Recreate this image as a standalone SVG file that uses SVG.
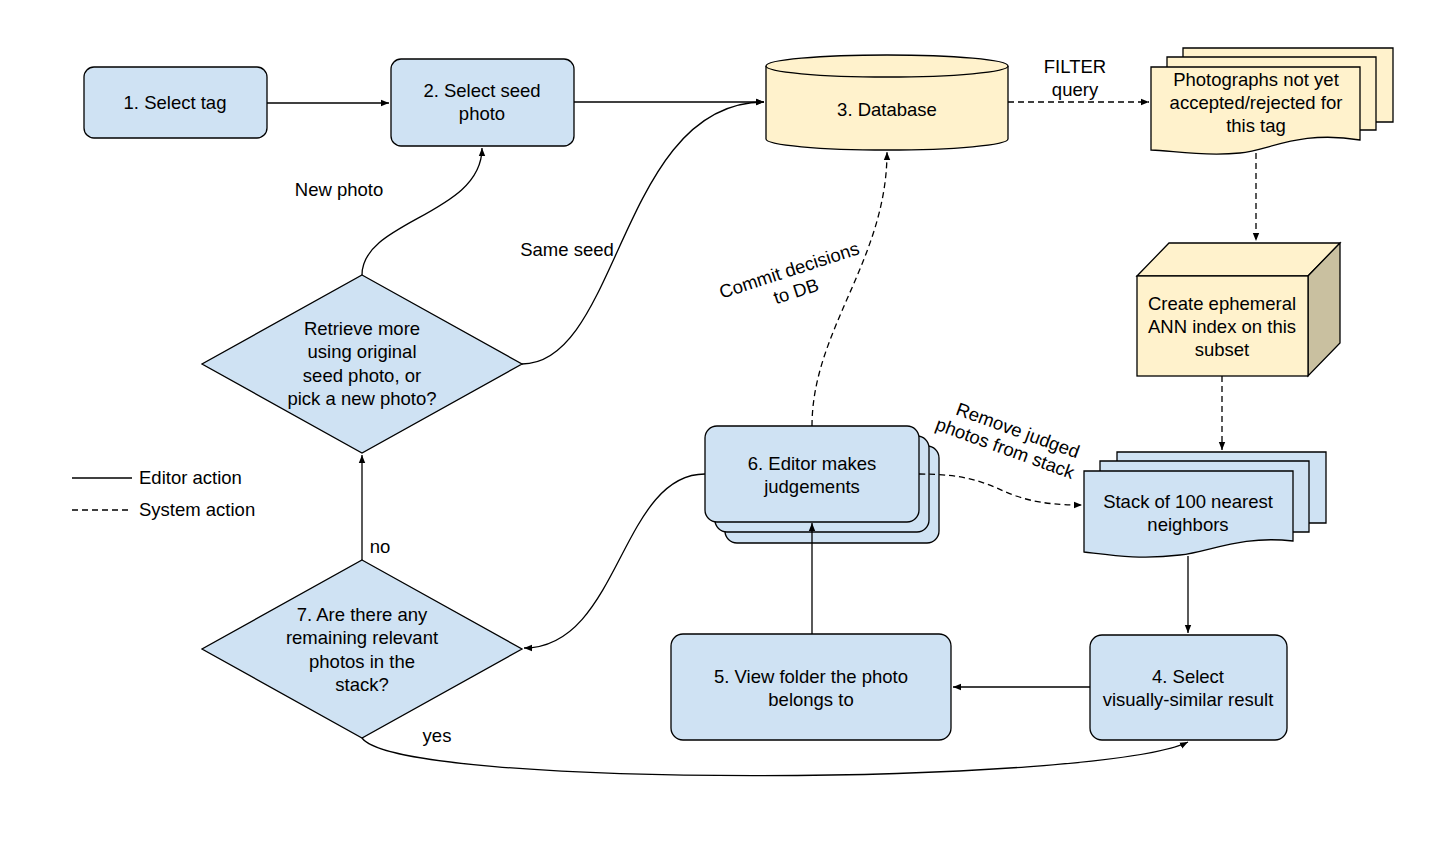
<svg xmlns="http://www.w3.org/2000/svg" width="1447" height="852" viewBox="0 0 1447 852">
<style>
text{font-family:"Liberation Sans",Arial,sans-serif;font-size:18.5px;fill:#000;text-anchor:middle}
.b{fill:#cfe2f3;stroke:#000;stroke-width:1.3}
.y{fill:#fff2cc;stroke:#000;stroke-width:1.3}
.c{fill:none;stroke:#000;stroke-width:1.3}
.d{stroke-dasharray:6,4}
</style>
<defs><marker id="a" viewBox="0 0 10 10" refX="10" refY="5" markerWidth="8" markerHeight="8" markerUnits="userSpaceOnUse" orient="auto"><path d="M0,1 L10,5 L0,9 z" fill="#000"/></marker></defs>
<rect width="1447" height="852" fill="#fff"/>
<g id="n1"><rect class="b" x="84" y="67" width="183" height="71" rx="10"/><text x="175" y="109">1. Select tag</text></g>
<g id="n2"><rect class="b" x="391" y="59" width="183" height="87" rx="10"/><text x="482" y="97">2. Select seed</text><text x="482" y="120">photo</text></g>
<g id="n3"><path class="y" d="M766,66 L766,139 A121,11 0 0 0 1008,139 L1008,66"/><ellipse class="y" cx="887" cy="66" rx="121" ry="11"/><text x="887" y="116">3. Database</text></g>
<g id="docA">
<path class="y" d="M1183,48 H1393 V122 H1183 Z"/>
<path class="y" d="M1167,57 H1376 V130 H1167 Z"/>
<path class="y" d="M1151,67 H1360 V140 C1300,130 1270,150 1240,153 C1200,157 1170,150 1151,150 Z"/>
<text x="1256" y="86">Photographs not yet</text><text x="1256" y="109">accepted/rejected for</text><text x="1256" y="132">this tag</text></g>
<g id="cube">
<path class="y" d="M1137,276 L1169,243 H1340 L1308,276 Z"/>
<path d="M1308,276 L1340,243 V343 L1308,376 Z" fill="#c9c0a0" stroke="#000" stroke-width="1.3"/>
<rect class="y" x="1137" y="276" width="171" height="100"/>
<text x="1222" y="310">Create ephemeral</text><text x="1222" y="333">ANN index on this</text><text x="1222" y="356">subset</text></g>
<g id="docB">
<path class="b" d="M1117,452 H1326 V523 H1117 Z"/>
<path class="b" d="M1100,461 H1309 V532 H1100 Z"/>
<path class="b" d="M1084,471 H1293 V541 C1240,535 1210,552 1180,555 C1140,560 1110,555 1084,552 Z"/>
<text x="1188" y="508">Stack of 100 nearest</text><text x="1188" y="531">neighbors</text></g>
<g id="n4"><rect class="b" x="1090" y="635" width="197" height="105" rx="12"/><text x="1188" y="683">4. Select</text><text x="1188" y="706">visually-similar result</text></g>
<g id="n5"><rect class="b" x="671" y="634" width="280" height="106" rx="12"/><text x="811" y="683">5. View folder the photo</text><text x="811" y="706">belongs to</text></g>
<g id="n6">
<rect class="b" x="725" y="446" width="214" height="97" rx="12"/>
<rect class="b" x="715" y="436" width="214" height="96" rx="12"/>
<rect class="b" x="705" y="426" width="214" height="96" rx="12"/>
<text x="812" y="470">6. Editor makes</text><text x="812" y="493">judgements</text></g>
<g id="d1"><path class="b" d="M362,275 L522,364 L362,453 L202,364 Z"/><text x="362" y="335">Retrieve more</text><text x="362" y="358">using original</text><text x="362" y="382">seed photo, or</text><text x="362" y="405">pick a new photo?</text></g>
<g id="d7"><path class="b" d="M362,560 L522,649 L362,738 L202,649 Z"/><text x="362" y="621">7. Are there any</text><text x="362" y="644">remaining relevant</text><text x="362" y="668">photos in the</text><text x="362" y="691">stack?</text></g>
<g id="legend"><line class="c" x1="72" y1="478" x2="132" y2="478"/><line class="c d" x1="72" y1="510" x2="132" y2="510"/><text x="139" y="484" style="text-anchor:start">Editor action</text><text x="139" y="516" style="text-anchor:start">System action</text></g>
<g id="connectors">
<path class="c" d="M267,103 H389" marker-end="url(#a)"/>
<path class="c" d="M574,102 H764" marker-end="url(#a)"/>
<path class="c d" d="M1008,102 H1149" marker-end="url(#a)"/>
<path class="c d" d="M1256,153 V241" marker-end="url(#a)"/>
<path class="c d" d="M1222,376 V450" marker-end="url(#a)"/>
<path class="c" d="M1188,556 V633" marker-end="url(#a)"/>
<path class="c" d="M1090,687 H953" marker-end="url(#a)"/>
<path class="c" d="M812,634 V523" marker-end="url(#a)"/>
<path class="c d" d="M812,426 C812,330 887,260 887,152" marker-end="url(#a)"/>
<path class="c d" d="M919,474 C1010,474 990,505 1082,505" marker-end="url(#a)"/>
<path class="c" d="M705,474 C620,474 620,648 524,648" marker-end="url(#a)"/>
<path class="c" d="M362,560 V455" marker-end="url(#a)"/>
<path class="c" d="M362,738 C400,790 1100,785 1188,742" marker-end="url(#a)"/>
<path class="c" d="M362,275 C362,220 482,215 482,148" marker-end="url(#a)"/>
<path class="c" d="M522,364 C620,364 620,102 764,102" marker-end="url(#a)"/>
<text x="1075" y="73">FILTER</text><text x="1075" y="96">query</text>
<text x="339" y="196">New photo</text>
<text x="567" y="256">Same seed</text>
<text x="380" y="553">no</text>
<text x="437" y="742">yes</text>
<g transform="translate(793,282) rotate(-18)"><text x="0" y="-6">Commit decisions</text><text x="0" y="16">to DB</text></g>
<g transform="translate(1008,440) rotate(20)"><text x="6" y="-6">Remove judged</text><text x="0" y="15">photos from stack</text></g>
</g>
</svg>
